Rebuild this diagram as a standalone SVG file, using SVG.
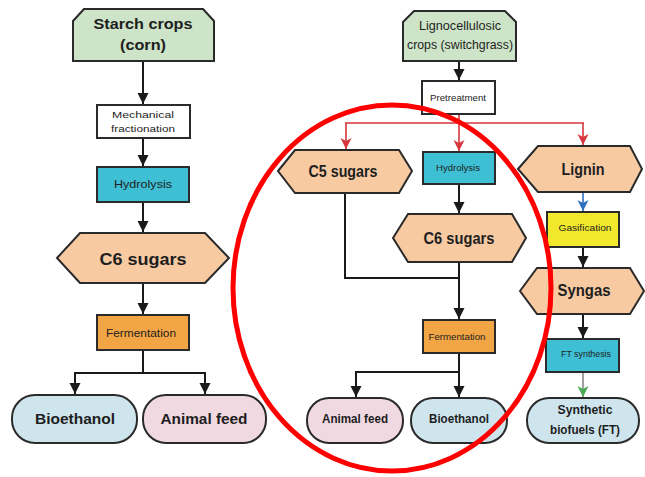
<svg xmlns="http://www.w3.org/2000/svg" width="645" height="477" viewBox="0 0 645 477">
<defs>
<style>
.n{stroke:#2a2a2a;stroke-width:2}
.green{fill:#cde4c8}
.white{fill:#ffffff}
.cyan{fill:#3fbfd3}
.peach{fill:#f7caa2}
.orange{fill:#f2a545}
.yellow{fill:#f2e92c}
.blue{fill:#cfe5ee}
.pink{fill:#f1d9e2}
text{font-family:"Liberation Sans",Arial,sans-serif;fill:#1e1e1e;text-anchor:middle}
.big{font-size:17px;font-weight:bold}
.med{font-size:14px;font-weight:bold}
.sm{font-size:11px}
.xs{font-size:9.5px}
.c{fill:none;stroke:#1a1a1a;stroke-width:2}
.r{fill:none;stroke:#d6373c;stroke-width:1.6}
</style>
<marker id="ab" markerUnits="userSpaceOnUse" markerWidth="12" markerHeight="12" refX="11" refY="6" orient="auto"><path d="M0,0.5 L11,6 L0,11.5 z" fill="#1a1a1a"/></marker>
<marker id="ar" markerUnits="userSpaceOnUse" markerWidth="12" markerHeight="12" refX="11" refY="6" orient="auto"><path d="M0,0.5 L11,6 L0,11.5 L3,6 z" fill="#d6373c"/></marker>
<marker id="abl" markerUnits="userSpaceOnUse" markerWidth="12" markerHeight="12" refX="11" refY="6" orient="auto"><path d="M0,0.5 L11,6 L0,11.5 L3,6 z" fill="#2f6fc0"/></marker>
<marker id="ag" markerUnits="userSpaceOnUse" markerWidth="12" markerHeight="12" refX="11" refY="6" orient="auto"><path d="M0,0.5 L11,6 L0,11.5 L3,6 z" fill="#4aaa55"/></marker>
</defs>
<rect width="645" height="477" fill="#ffffff"/>

<g id="connectors">
<line class="c" x1="143" y1="61" x2="143" y2="104" marker-end="url(#ab)"/>
<line class="c" x1="143" y1="138" x2="143" y2="166" marker-end="url(#ab)"/>
<line class="c" x1="143" y1="202" x2="143" y2="232" marker-end="url(#ab)"/>
<line class="c" x1="143" y1="283" x2="143" y2="314" marker-end="url(#ab)"/>
<path class="c" d="M143,350 V373 M74,373 H206"/>
<line class="c" x1="75" y1="373" x2="75" y2="394" marker-end="url(#ab)"/>
<line class="c" x1="205" y1="373" x2="205" y2="394" marker-end="url(#ab)"/>

<line class="c" x1="459" y1="61" x2="459" y2="80" marker-end="url(#ab)"/>
<path class="r" d="M459,114 V123 M345,123 H584"/>
<line class="r" x1="346" y1="123" x2="346" y2="149" marker-end="url(#ar)"/>
<line class="r" x1="459" y1="123" x2="459" y2="151" marker-end="url(#ar)"/>
<line class="r" x1="583" y1="123" x2="583" y2="145" marker-end="url(#ar)"/>
<line x1="583" y1="193" x2="583" y2="211" stroke="#2f6fc0" stroke-width="1.6" marker-end="url(#abl)"/>
<line class="c" x1="583" y1="247" x2="583" y2="267" marker-end="url(#ab)"/>
<line class="c" x1="583" y1="314" x2="583" y2="338" marker-end="url(#ab)"/>
<line x1="583" y1="372" x2="583" y2="397" stroke="#888888" stroke-width="1.6" marker-end="url(#ag)"/>
<line class="c" x1="459" y1="184" x2="459" y2="213" marker-end="url(#ab)"/>
<path class="c" d="M345,193 V278 H459"/>
<line class="c" x1="459" y1="262" x2="459" y2="319" marker-end="url(#ab)"/>
<path class="c" d="M459,353 V372 M355,372 H460"/>
<line class="c" x1="356" y1="372" x2="356" y2="397" marker-end="url(#ab)"/>
<line class="c" x1="459" y1="372" x2="459" y2="397" marker-end="url(#ab)"/>
</g>

<g id="starch">
<polygon class="n green" points="73,21 84,9 203,9 214,21 214,61 73,61"/>
<text class="med" x="143" y="29" font-size="16" textLength="99" lengthAdjust="spacingAndGlyphs">Starch crops</text>
<text class="med" x="143" y="50" font-size="16" textLength="46" lengthAdjust="spacingAndGlyphs">(corn)</text>
</g>
<g id="mech">
<rect class="n white" x="97" y="105" width="93" height="33"/>
<text class="xs" x="143" y="118" textLength="62" lengthAdjust="spacingAndGlyphs">Mechanical</text>
<text class="xs" x="143" y="132" textLength="64" lengthAdjust="spacingAndGlyphs">fractionation</text>
</g>
<g id="hydro1">
<rect class="n cyan" x="97" y="167" width="92" height="35"/>
<text class="sm" x="143" y="188" textLength="58" lengthAdjust="spacingAndGlyphs">Hydrolysis</text>
</g>
<g id="c6a">
<polygon class="n peach" points="57,258 80,233 205,233 229,258 205,283 80,283"/>
<text class="big" x="143" y="265" font-size="19" textLength="87" lengthAdjust="spacingAndGlyphs">C6 sugars</text>
</g>
<g id="ferm1">
<rect class="n orange" x="97" y="315" width="92" height="35"/>
<text class="sm" x="141" y="337" textLength="70" lengthAdjust="spacingAndGlyphs">Fermentation</text>
</g>
<g id="bioeth1">
<rect class="n blue" x="12" y="395" width="125" height="48" rx="23" ry="23"/>
<text class="med" x="75" y="424" font-size="15" textLength="80" lengthAdjust="spacingAndGlyphs">Bioethanol</text>
</g>
<g id="feed1">
<rect class="n pink" x="143" y="395" width="123" height="48" rx="23" ry="23"/>
<text class="med" x="204" y="424" font-size="15" textLength="87" lengthAdjust="spacingAndGlyphs">Animal feed</text>
</g>

<g id="ligno">
<polygon class="n green" points="403,22 414,11 505,11 516,22 516,61 403,61"/>
<text x="460" y="30" font-size="12" textLength="82" lengthAdjust="spacingAndGlyphs">Lignocellulosic</text>
<text x="460" y="49" font-size="12" textLength="106" lengthAdjust="spacingAndGlyphs">crops (switchgrass)</text>
</g>
<g id="pretreat">
<rect class="n white" x="422" y="81" width="73" height="33"/>
<text class="xs" x="458" y="101" textLength="56" lengthAdjust="spacingAndGlyphs">Pretreatment</text>
</g>
<g id="c5">
<polygon class="n peach" points="278,171 295,150 399,150 412,171 399,193 295,193"/>
<text class="big" x="343" y="177" textLength="69" lengthAdjust="spacingAndGlyphs">C5 sugars</text>
</g>
<g id="hydro2">
<rect class="n cyan" x="423" y="152" width="72" height="32"/>
<text class="xs" x="458" y="171" textLength="44" lengthAdjust="spacingAndGlyphs">Hydrolysis</text>
</g>
<g id="lignin">
<polygon class="n peach" points="518,169 538,146 630,146 642,169 630,192 538,192"/>
<text class="big" x="583" y="175" font-size="18" textLength="43" lengthAdjust="spacingAndGlyphs">Lignin</text>
</g>
<g id="c6b">
<polygon class="n peach" points="393,238 408,214 512,214 526,238 512,262 408,262"/>
<text class="big" x="459" y="244" textLength="71" lengthAdjust="spacingAndGlyphs">C6 sugars</text>
</g>
<g id="gasif">
<rect class="n yellow" x="547" y="212" width="72" height="35"/>
<text class="xs" x="585" y="231" textLength="53" lengthAdjust="spacingAndGlyphs">Gasification</text>
</g>
<g id="syngas">
<polygon class="n peach" points="520,291 537,268 630,268 644,291 630,314 537,314"/>
<text class="big" x="584" y="296" font-size="18" textLength="53" lengthAdjust="spacingAndGlyphs">Syngas</text>
</g>
<g id="ferm2">
<rect class="n orange" x="423" y="320" width="72" height="33"/>
<text class="xs" x="457" y="340" textLength="57" lengthAdjust="spacingAndGlyphs">Fermentation</text>
</g>
<g id="ftsyn">
<rect class="n cyan" x="546" y="339" width="73" height="33"/>
<text class="xs" x="586" y="357" textLength="50" lengthAdjust="spacingAndGlyphs">FT synthesis</text>
</g>
<g id="feed2">
<rect class="n pink" x="307" y="398" width="96" height="45" rx="22" ry="22"/>
<text x="355" y="423" font-size="13" font-weight="bold" textLength="66" lengthAdjust="spacingAndGlyphs">Animal feed</text>
</g>
<g id="bioeth2">
<rect class="n blue" x="411" y="398" width="96" height="45" rx="22" ry="22"/>
<text x="459" y="423" font-size="13" font-weight="bold" textLength="60" lengthAdjust="spacingAndGlyphs">Bioethanol</text>
</g>
<g id="synth">
<rect class="n blue" x="527" y="398" width="112" height="45" rx="22" ry="22"/>
<text x="585" y="414" font-size="13" font-weight="bold" textLength="55" lengthAdjust="spacingAndGlyphs">Synthetic</text>
<text x="585" y="434" font-size="13" font-weight="bold" textLength="70" lengthAdjust="spacingAndGlyphs">biofuels (FT)</text>
</g>

<ellipse id="highlight" cx="392" cy="288" rx="159" ry="183" fill="none" stroke="#ff0000" stroke-width="5"/>
</svg>
